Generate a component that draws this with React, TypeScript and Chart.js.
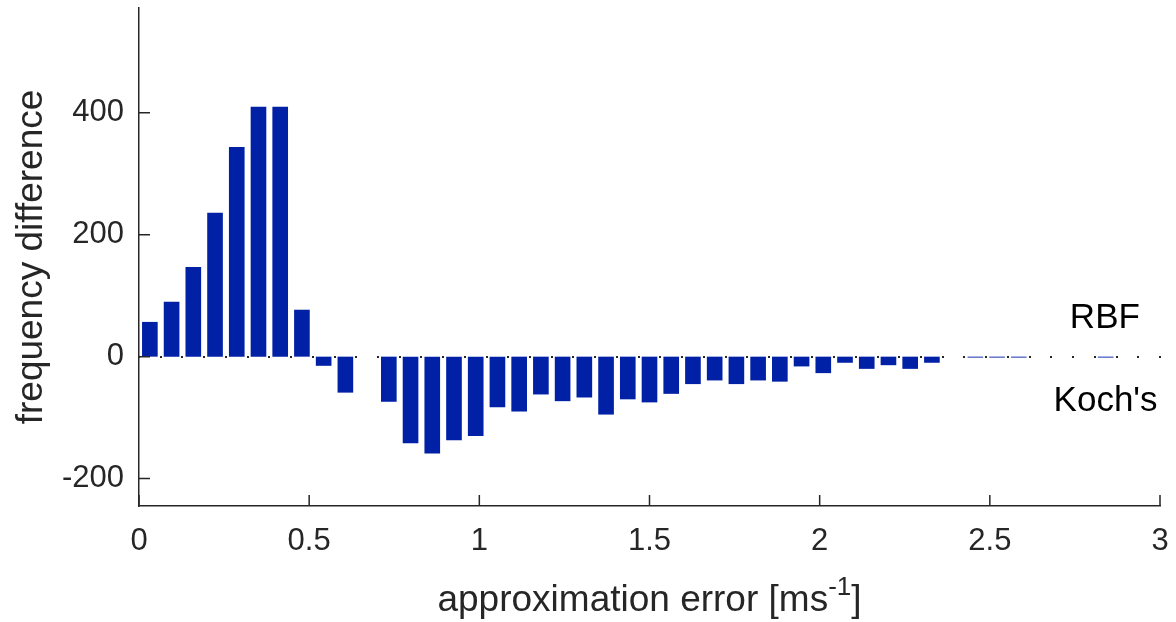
import React, { useEffect, useRef } from 'react';
import { Chart, registerables } from 'chart.js';

Chart.register(...registerables);

// ---- data ----
const X_MIN = 0;
const X_MAX = 3;
const BIN_COUNT = 47;
const BIN_WIDTH = (X_MAX - X_MIN) / BIN_COUNT;

const frequencyDiff: number[] = [
  57, 90, 147, 236, 344, 410, 410, 77, -15, -59,
  0, -74, -142, -159, -137, -130, -83, -90, -62, -73,
  -67, -95, -70, -75, -61, -45, -39, -45, -39, -41,
  -16, -27, -10, -20, -14, -20, -10, 0, -1.5, -1.5,
  -1.5, 0, 0, 0, -1.5, 0, 0,
];
const binCenters: number[] = frequencyDiff.map((_, i) => X_MIN + (i + 0.5) * BIN_WIDTH);
const binEdges: number[] = Array.from({ length: BIN_COUNT + 1 }, (_, i) => X_MIN + i * BIN_WIDTH);

const xTicks: number[] = [0, 0.5, 1, 1.5, 2, 2.5, 3];
const yTicks: number[] = [-200, 0, 200, 400];
const Y_MIN = -245;
const Y_MAX = 572;

const xTitle = 'approximation error [ms';
const xTitleSup = '-1';
const xTitleEnd = ']';
const yTitle = 'frequency difference';
const annotations = [
  { text: 'RBF', x: 2.838, y: 47 },
  { text: "Koch's", x: 2.84, y: -89 },
];

// ---- style ----
const FONT = "'Liberation Sans', Arial, Helvetica, sans-serif";
const AXIS = '#262626';
const TEXT = '#262626';
const BAR = '#0020A6';
const TITLE_SIZE = 37;
const SUP_SIZE = 26;
const NOTE_SIZE = 35;
const TICK_SIZE = 31;

const decorPlugin = {
  id: 'decor',
  afterDatasetsDraw(chart: any) {
    const { ctx, scales } = chart;
    const x = scales.x;
    const y = scales.y;
    const y0 = Math.round(y.getPixelForValue(0));
    ctx.save();
    ctx.fillStyle = AXIS;
    for (const e of binEdges) {
      const px = Math.round(x.getPixelForValue(e));
      ctx.fillRect(px - 1, y0 - 1, 2, 2);
    }
    ctx.restore();
  },
  afterDraw(chart: any) {
    const { ctx, chartArea, scales } = chart;
    const x = scales.x;
    const y = scales.y;
    ctx.save();
    ctx.strokeStyle = AXIS;
    ctx.lineWidth = 1.5;
    ctx.beginPath();
    for (const v of xTicks) {
      const px = x.getPixelForValue(v);
      ctx.moveTo(px, chartArea.bottom);
      ctx.lineTo(px, chartArea.bottom - 11);
    }
    for (const v of yTicks) {
      const py = y.getPixelForValue(v);
      ctx.moveTo(chartArea.left, py);
      ctx.lineTo(chartArea.left + 11, py);
    }
    ctx.stroke();

    // annotations
    ctx.fillStyle = '#000';
    ctx.font = `${NOTE_SIZE}px ${FONT}`;
    ctx.textAlign = 'center';
    ctx.textBaseline = 'alphabetic';
    for (const a of annotations) {
      ctx.fillText(a.text, x.getPixelForValue(a.x), y.getPixelForValue(a.y));
    }

    // x title with superscript
    ctx.fillStyle = TEXT;
    ctx.textAlign = 'left';
    const cx = (chartArea.left + chartArea.right) / 2;
    const base = 611;
    ctx.font = `${TITLE_SIZE}px ${FONT}`;
    const w1 = ctx.measureText(xTitle).width;
    const w3 = ctx.measureText(xTitleEnd).width;
    ctx.font = `${SUP_SIZE}px ${FONT}`;
    const w2 = ctx.measureText(xTitleSup).width;
    let sx = cx - (w1 + w2 + w3) / 2;
    ctx.font = `${TITLE_SIZE}px ${FONT}`;
    ctx.fillText(xTitle, sx, base);
    sx += w1;
    ctx.font = `${SUP_SIZE}px ${FONT}`;
    ctx.fillText(xTitleSup, sx, base - 16);
    sx += w2;
    ctx.font = `${TITLE_SIZE}px ${FONT}`;
    ctx.fillText(xTitleEnd, sx, base);

    // y title
    ctx.translate(42, (chartArea.top + chartArea.bottom) / 2);
    ctx.rotate(-Math.PI / 2);
    ctx.textAlign = 'center';
    ctx.fillText(yTitle, 0, 0);
    ctx.restore();
  },
};

export default function App() {
  const ref = useRef<HTMLCanvasElement>(null);
  useEffect(() => {
    const chart = new Chart(ref.current as HTMLCanvasElement, {
      type: 'bar',
      data: {
        datasets: [
          {
            data: binCenters.map((c, i) => ({ x: c, y: frequencyDiff[i] })),
            backgroundColor: BAR,
            borderWidth: 0,
            barPercentage: 0.72,
            categoryPercentage: 1,
          },
        ],
      },
      options: {
        animation: false,
        responsive: true,
        maintainAspectRatio: false,
        layout: { padding: { left: 0, top: 8, right: 16, bottom: 0 } },
        plugins: { legend: { display: false }, tooltip: { enabled: false } },
        scales: {
          x: {
            type: 'linear',
            min: X_MIN,
            max: X_MAX,
            offset: false,
            grid: { display: false, drawTicks: false },
            border: { display: true, color: AXIS, width: 1.5 },
            ticks: {
              padding: 17,
              color: TEXT,
              font: { family: FONT, size: TICK_SIZE },
              maxRotation: 0,
              autoSkip: false,
              callback: (v: any) => String(v),
            },
            afterBuildTicks: (s: any) => {
              s.ticks = xTicks.map((v) => ({ value: v }));
            },
            afterFit: (s: any) => {
              s.height = 116;
              s.paddingLeft = 0;
              s.paddingRight = 0;
            },
          },
          y: {
            type: 'linear',
            min: Y_MIN,
            max: Y_MAX,
            grid: { display: false, drawTicks: false },
            border: { display: true, color: AXIS, width: 1.5 },
            ticks: {
              padding: 15,
              color: TEXT,
              font: { family: FONT, size: TICK_SIZE },
              autoSkip: false,
              callback: (v: any) => String(v),
            },
            afterBuildTicks: (s: any) => {
              s.ticks = yTicks.map((v) => ({ value: v }));
            },
            afterFit: (s: any) => {
              s.width = 139;
              s.paddingTop = 0;
              s.paddingBottom = 0;
            },
          },
        },
      },
      plugins: [decorPlugin],
    } as any);
    return () => chart.destroy();
  }, []);
  return (
    <div style={{ position: 'fixed', left: 0, top: 0, width: 1176, height: 622, background: '#fff' }}>
      <canvas ref={ref} />
    </div>
  );
}
